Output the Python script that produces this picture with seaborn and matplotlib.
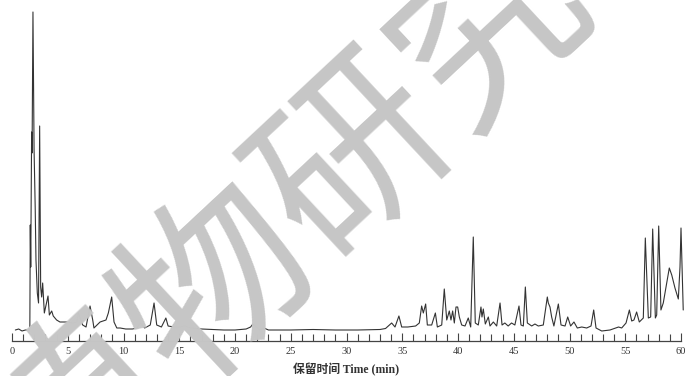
import numpy as np
import pandas as pd
import matplotlib
matplotlib.use("Agg")
import matplotlib.pyplot as plt
import seaborn as sns
from matplotlib.ticker import MultipleLocator

# Tempo de retenção (min) e sinal do detector (unidades arbitrárias)
tempo = [0.3, 0.6, 0.9, 1.2, 1.5, 1.6, 1.64, 1.68, 1.76, 1.8, 1.88, 1.98, 2.08, 2.15,
         2.27, 2.38, 2.48, 2.57, 2.66, 2.75, 2.9, 3.23, 3.35, 3.56, 3.7, 4.0, 4.3, 4.9,
         5.5, 5.8, 5.95, 6.1, 6.34, 6.64, 7.0, 7.24, 7.35, 7.9, 8.43, 8.64, 8.94, 9.15,
         9.4, 9.7, 10.2, 10.8, 11.2, 11.5, 11.9, 12.4, 12.74, 12.98, 13.4, 13.8, 14.0,
         14.5, 15.0, 15.5, 16.0, 17.0, 18.0, 19.0, 20.0, 21.0, 21.4, 21.6, 21.9, 22.2,
         22.6, 23.0, 25.0, 27.0, 29.0, 31.0, 33.0, 33.5,
         34.05, 34.35, 34.7, 34.95, 35.5, 36.2, 36.53, 36.74, 36.89, 37.1, 37.25, 37.64,
         37.97, 38.15, 38.54, 38.77, 38.99, 39.22, 39.37, 39.52, 39.67, 39.82, 39.97,
         40.12, 40.33, 40.63, 40.92, 41.14, 41.37, 41.55, 41.82, 42.06, 42.15, 42.27,
         42.45, 42.72, 42.87, 43.17, 43.47, 43.77, 43.95, 44.2, 44.5, 44.8, 45.1, 45.47,
         45.65, 45.86, 46.04, 46.22, 46.61, 46.9, 47.2, 47.65, 48.01, 48.1, 48.25, 48.4,
         48.6, 49.0, 49.24, 49.6, 49.84, 50.1, 50.4, 50.7, 51.1, 51.54, 51.93, 52.17,
         52.38, 52.89, 53.63, 54.4, 54.68, 55.07, 55.37, 55.58, 55.78, 56.02, 56.26,
         56.62, 56.8, 57.07, 57.28, 57.46, 57.7, 57.82, 58.0, 58.2, 58.41, 58.72, 58.95,
         59.17, 59.46, 59.76, 59.91, 60.0, 60.2]
sinal = [0, 1, -1, 0, 0, 2, 105, 63, 198, 177, 318, 180, 123, 70,
         37, 27, 204, 43, 33, 47, 17, 34, 15, 19, 14, 10, 8, 8,
         7, 8, 17, 12, 5, 3, 24, 10, 2, 8, 10, 17, 33, 8,
         2, 2, 1, 1, 2, 7, 2, 5, 27, 5, 3, 12, 4,
         3, 3, 4, 2, 1, 0.5, 0, 0, 1, 3, 6, 3, 0,
         2, 0, 0, 0.5, 0, 0, 0.5, 1.5,
         7, 3, 14, 3, 3, 4, 7, 24, 17, 26, 5, 5,
         17, 3, 5, 41, 10, 19, 10, 19, 7, 23, 23,
         13, 5, 4, 12, 3, 93, 7, 5, 23, 13, 21,
         6, 13, 4, 8, 4, 27, 5, 7, 4, 7, 5, 24,
         5, 4, 43, 7, 4, 6, 4, 5, 33, 27, 23, 13,
         4, 26, 5, 4, 13, 4, 8, 2, 3, 2, 4, 20,
         2, -1, 0, 3, 2, 7, 20, 9, 10, 18, 8,
         12, 92, 12, 13, 101, 12, 15, 104, 20, 27, 47, 62,
         55, 42, 31, 63, 102, 20]

df = pd.DataFrame({"Tempo": tempo, "Sinal": sinal})

sns.set_style("white")
plt.rcParams['font.family'] = ['Liberation Serif', 'Noto Sans CJK SC']

fig = plt.figure(figsize=(6.85, 3.76), dpi=100)
ax = fig.add_axes([12/685, 1 - 341/376, 669/685, 336/376])

sns.lineplot(data=df, x="Tempo", y="Sinal", ax=ax, color="#333333", linewidth=0.8,
             sort=False, estimator=None, clip_on=False)

ax.set_xlim(0, 60)
ax.set_ylim(-11, 325)
for lado in ['left', 'right', 'top']:
    ax.spines[lado].set_visible(False)
ax.spines['bottom'].set_color('#444444')
ax.spines['bottom'].set_linewidth(0.9)
ax.set_yticks([])
ax.set_ylabel('')
ax.xaxis.set_major_locator(MultipleLocator(5))
ax.xaxis.set_minor_locator(MultipleLocator(1))
ax.tick_params(axis='x', which='both', direction='in', bottom=True, color='#444444',
               width=0.8, labelsize=7.5, pad=4, labelcolor='#333333')
ax.tick_params(axis='x', which='major', length=6)
ax.tick_params(axis='x', which='minor', length=5)
ax.set_xlabel('保留时间 Time (min)', fontsize=8.5, fontweight='bold', color='#333333', labelpad=5)

# Marca d'água
fig.text(288/685, 1 - 224/376, '植物研究', fontsize=135, color='#c6c6c6',
         family=['Noto Sans CJK SC'], rotation=43, ha='center', va='center',
         rotation_mode='anchor', zorder=10)

fig.savefig('out.png', dpi=100)
